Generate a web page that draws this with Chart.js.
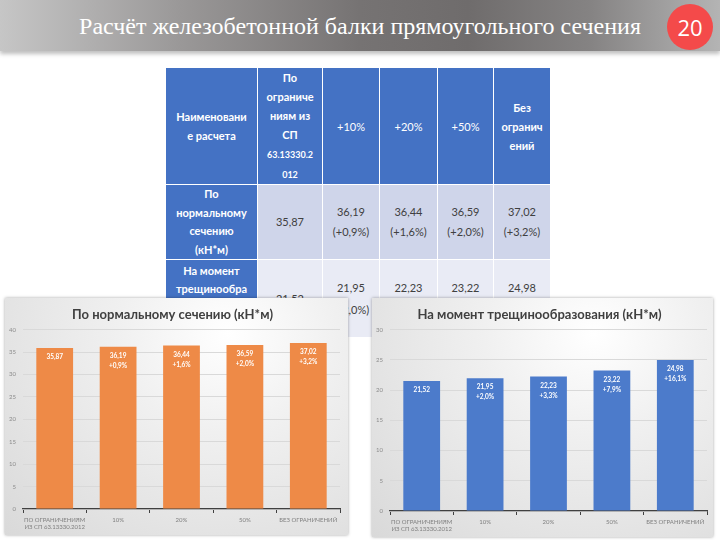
<!DOCTYPE html>
<html>
<head>
<meta charset="utf-8">
<script src="https://cdn.jsdelivr.net/npm/chart.js@4.4.1/dist/chart.umd.min.js"></script>
<style>
body { margin: 0; width: 720px; height: 540px; position: relative; overflow: hidden; background: #fff; font-family: Lato, 'Open Sans', sans-serif; }
#head { position: absolute; left: 0; top: 0; width: 720px; height: 51px;
  background: linear-gradient(90deg, #c6c6c6 0%, #9a9898 25%, #767373 50%, #6f6c6c 65%, #858383 82%, #b4b4b4 100%);
  box-shadow: 0 3px 4px rgba(0,0,0,.25); }
#title { position: absolute; left: 0; top: 13px; width: 720px; text-align: center; color: #fff;
  font: 24px 'Liberation Serif', 'DejaVu Serif', serif; }
#num { position: absolute; left: 667px; top: 4px; width: 46px; height: 46px; border-radius: 50%; background: #f44a4a;
  color: #fff; font: 22px 'Open Sans', sans-serif; text-align: center; line-height: 46px; }
#tbl { position: absolute; left: 165px; top: 67px; border-collapse: collapse; table-layout: fixed; font-size: 11px; }
#tbl td { border: 1px solid #fff; text-align: center; vertical-align: middle; padding: 0; line-height: 18.5px; }
#tbl tr:first-child td { line-height: 19px; }
#tbl .h { background: #4472c4; color: #fff; font-weight: bold; }
#tbl .hr { background: #4472c4; color: #fff; font-weight: normal; }
#tbl .sm { font-size: 9px; }
#tbl .r1 { background: #cfd5ea; color: #404040; line-height: 20px; }
#tbl .r2 { background: #e9ebf5; color: #404040; line-height: 22px; }
.box { position: absolute; background: radial-gradient(ellipse at 65% 15%, #ffffff 0%, #f0f0f0 35%, #e2e2e2 75%, #d9d9d9 100%);
  box-shadow: 0 0 3px rgba(0,0,0,.35); }
</style>
</head>
<body>
<div id="head"></div>
<div id="title">Расчёт железобетонной балки прямоугольного сечения</div>
<div id="num">20</div>

<table id="tbl">
  <colgroup><col style="width:92px"><col style="width:65px"><col style="width:57px"><col style="width:58px"><col style="width:56px"><col style="width:57px"></colgroup>
  <tr style="height:115px">
    <td class="h">Наименовани<br>е расчета</td>
    <td class="h">По<br>ограниче<br>ниям из<br>СП<br><span class="sm">63.13330.2<br>012</span></td>
    <td class="hr" id="c2"></td>
    <td class="hr" id="c3"></td>
    <td class="hr" id="c4"></td>
    <td class="h">Без<br>огранич<br>ений</td>
  </tr>
  <tr id="row1" style="height:75px"><td class="h">По<br>нормальному<br>сечению<br>(кН*м)</td></tr>
  <tr id="row2" style="height:78px"><td class="h">На момент<br>трещинообра<br>зования<br>(кН*м)</td></tr>
</table>

<div class="box" style="left:5px;top:298px;width:343px;height:237px"><canvas id="left"></canvas></div>
<div class="box" style="left:372px;top:298px;width:341px;height:239px"><canvas id="right"></canvas></div>

<script>
// данные
const categories = [['ПО ОГРАНИЧЕНИЯМ', 'ИЗ СП 63.13330.2012'], '10%', '20%', '50%', 'БЕЗ ОГРАНИЧЕНИЙ'];
const headPct    = ['+10%', '+20%', '+50%'];
const normal     = [35.87, 36.19, 36.44, 36.59, 37.02];
const normalPct  = ['', '+0,9%', '+1,6%', '+2,0%', '+3,2%'];
const crack      = [21.52, 21.95, 22.23, 23.22, 24.98];
const crackPct   = ['', '+2,0%', '+3,3%', '+7,9%', '+16,1%'];

const fmt = v => v.toFixed(2).replace('.', ',');

// таблица
headPct.forEach((t, i) => { document.getElementById('c' + (i + 2)).textContent = t; });
function fillRow(id, vals, pct, cls) {
    const tr = document.getElementById(id);
    vals.forEach((v, i) => {
        const td = document.createElement('td');
        td.className = cls;
        td.innerHTML = fmt(v) + (pct[i] ? '<br>(' + pct[i] + ')' : '');
        tr.appendChild(td);
    });
}
fillRow('row1', normal, normalPct, 'r1');
fillRow('row2', crack, crackPct, 'r2');

// подписи на столбцах
const barLabels = {
    id: 'barLabels',
    afterDatasetsDraw(chart, args, opts) {
        const ctx = chart.ctx;
        const meta = chart.getDatasetMeta(0);
        const data = chart.data.datasets[0].data;
        ctx.save();
        ctx.fillStyle = '#fff';
        ctx.font = 'bold 6.5px Lato';
        ctx.textAlign = 'center';
        ctx.textBaseline = 'middle';
        meta.data.forEach((bar, i) => {
            const lines = [fmt(data[i])];
            if (opts.pct[i]) lines.push(opts.pct[i]);
            lines.forEach((t, k) => ctx.fillText(t, bar.x, bar.y + 9 + k * 10));
        });
        ctx.restore();
    }
};

Chart.defaults.font.family = 'Lato';
Chart.defaults.animation = false;

function makeChart(id, title, values, pct, color, max, padRight) {
    new Chart(document.getElementById(id), {
        type: 'bar',
        data: {
            labels: categories,
            datasets: [{ data: values, backgroundColor: color, barPercentage: 0.58, categoryPercentage: 1 }]
        },
        options: {
            responsive: true,
            maintainAspectRatio: false,
            layout: { padding: { top: 0, right: padRight, left: 0, bottom: 0 } },
            plugins: {
                legend: { display: false },
                tooltip: { enabled: false },
                title: { display: true, text: title, color: '#404040', font: { size: 13, weight: 'bold' }, padding: { top: 9, bottom: 7 } },
                barLabels: { pct: pct }
            },
            scales: {
                x: {
                    afterFit: s => { s.height = 26; },
                    grid: { drawOnChartArea: false, color: '#404040', tickLength: 4 },
                    border: { color: '#404040', width: 1.2 },
                    ticks: { color: '#7f7f7f', font: { size: 6 }, padding: 3, autoSkip: false, maxRotation: 0 }
                },
                y: {
                    min: 0, max: max,
                    afterFit: s => { s.width = 18; },
                    grid: { color: '#d9d9d9', drawTicks: false },
                    border: { display: false },
                    ticks: { stepSize: 5, color: '#8c8c8c', font: { size: 6 }, padding: 7 }
                }
            }
        },
        plugins: [barLabels]
    });
}

makeChart('left', 'По нормальному сечению (кН*м)', normal, normalPct, '#ee8a47', 40, 8);
makeChart('right', 'На момент трещинообразования (кН*м)', crack, crackPct, '#4c7bcb', 30, 6);
</script>
</body>
</html>
